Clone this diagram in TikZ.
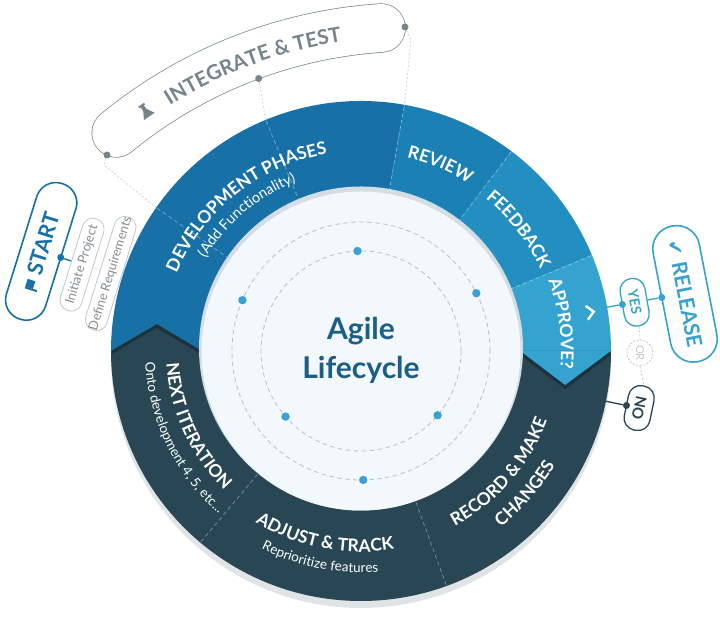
\documentclass[tikz,border=0pt]{standalone}
\usepackage{fontspec}
\setmainfont{Lato}
\newfontfamily\dejavu{DejaVu Sans}
\usetikzlibrary{decorations.text}
\definecolor{devblue}{HTML}{1771A7}
\definecolor{revblue}{HTML}{1B80B3}
\definecolor{feedblue}{HTML}{238FC1}
\definecolor{appblue}{HTML}{35A3CF}
\definecolor{darkslate}{HTML}{284653}
\definecolor{darkshadow}{HTML}{1C333D}
\definecolor{innerfill}{HTML}{F3F8FC}
\definecolor{innerrim}{HTML}{D3DDE3}
\definecolor{dotblue}{HTML}{3AA1D2}
\definecolor{pillgrey}{HTML}{75858C}
\definecolor{titleblue}{HTML}{1B5E86}
\definecolor{dotgrey}{HTML}{D0D5D8}
\definecolor{circgrey}{HTML}{BDBFC1}
\definecolor{spillgrey}{HTML}{C3C8CB}
\definecolor{stextgrey}{HTML}{878D92}
\definecolor{shadowgrey}{HTML}{E1E4E6}
\definecolor{orgrey}{HTML}{C6C9CC}
\newcommand\ringtitle{\fontsize{17.5}{20}\selectfont\bfseries}
\newcommand\ringsub{\fontsize{13.5}{16}\selectfont}
\newcommand\devsub{\fontsize{14.5}{17}\selectfont}
\begin{document}
\begin{tikzpicture}[x=1pt,y=1pt,
  dotline/.style={draw=dotgrey, line width=.8pt, dash pattern=on 2pt off 2pt},
  ringdash/.style={draw=white, draw opacity=.35, line width=.8pt, dash pattern=on 4pt off 3pt},
  circdash/.style={draw=circgrey, line width=.8pt, dash pattern=on 4.5pt off 3.5pt},
  dotnode/.style={circle, inner sep=0pt, minimum size=7pt},
  smallpill/.style={draw=spillgrey, line width=.8pt, fill=white, rounded corners=10.5pt, minimum height=22pt, text=stextgrey, font=\fontsize{12.8}{14}\selectfont, inner sep=0pt},
  bigpill/.style={fill=white, line width=1.6pt, rounded corners=20pt, minimum height=41pt, font=\fontsize{21.5}{24}\selectfont\bfseries, inner sep=0pt},
  tinypill/.style={fill=white, line width=1.3pt, rounded corners=12pt, minimum height=25pt, font=\fontsize{14}{16}\selectfont\bfseries, inner sep=0pt}]
\fill[white] (0,0) rectangle (720,617);
\useasboundingbox (0,0) rectangle (720,617);
% integrate & test pill
\begin{scope}[shift={(412,124)}]
  \draw[pillgrey, line width=49.4pt, line cap=round] (129.4:466) arc[start angle=129.4, end angle=93.8, radius=466];
  \draw[white, line width=48pt, line cap=round] (129.4:466) arc[start angle=129.4, end angle=93.8, radius=466];
  \path[decorate, decoration={text along path, text align=center, text={|\color{pillgrey}\fontsize{20.5}{23}\selectfont\bfseries|INTEGRATE {\&} TEST}}] (150.4:457) arc[start angle=150.4, end angle=70.4, radius=457];
  \begin{scope}[shift={(124.9:465)}, rotate=34.9]
    \fill[pillgrey] (-3.4,6.4) rectangle (3.4,8.4);
    \fill[pillgrey] (-1.9,6.6) -- (-1.9,2.2) -- (-6.4,-5.8) -- (6.4,-5.8) -- (1.9,2.2) -- (1.9,6.6) -- cycle;
  \end{scope}
  \node[dotnode, fill=pillgrey] (idotM) at (110.3:442) {};
\end{scope}
\node[dotnode, fill=pillgrey] (idotL) at (107,462) {};
\node[dotnode, fill=pillgrey] (idotR) at (405,590) {};
% ring
\begin{scope}[shift={(361,266)}]
  \coordinate (r80) at (80:250);
  \coordinate (r112) at (112.4:250);
  \coordinate (r145) at (145:250);
  \coordinate (r163) at (162.8:250);
  \coordinate (r10) at (10.1:250);
  \coordinate (rm12) at (-11.6:250);
  \draw[dotline] (idotL) -- ++(-3,-10) -- (r145);
  \draw[dotline] (idotM) -- (r112);
  \draw[dotline] (idotR) -- ++(6,-13) -- (r80);
  % shadow
  \fill[shadowgrey] (0,-7) circle[radius=250];
  % sectors
  \fill[devblue] (0,0) -- (80:250) arc[start angle=80, end angle=180, radius=250] -- cycle;
  \fill[revblue] (0,0) -- (53:250) arc[start angle=53, end angle=80, radius=250] -- cycle;
  \fill[feedblue] (0,0) -- (22.5:250) arc[start angle=22.5, end angle=53, radius=250] -- cycle;
  \fill[appblue] (0,0) -- (0:250) arc[start angle=0, end angle=22.5, radius=250] -- cycle;
  \fill[darkslate] (0,0) -- (180:250) arc[start angle=180, end angle=360, radius=250] -- cycle;
  \fill[darkslate] (180:250) -- (172.5:206) -- (180:159) -- cycle;
  \fill[appblue] (0:250) -- (-9.5:207) -- (0:159) -- cycle;
  \begin{scope}
    \clip (0,0) circle[radius=249.5];
    \draw[darkshadow, line width=3pt, yshift=-2pt] (180:250) -- (172.5:206) -- (180:159);
    \draw[darkshadow, line width=3pt, yshift=-2pt] (0:250) -- (-9.5:207) -- (0:159);
  \end{scope}
  \foreach \a in {80,53,22.5,112.4,145,230,290} \draw[ringdash] (\a:161) -- (\a:250);
  % inner circle
  \fill[innerrim] (0,2.5) circle[radius=162];
  \fill[innerfill] (0,0) circle[radius=159.5];
  \draw[circdash] (0,0) circle[radius=129];
  \draw[circdash] (0,0) circle[radius=100];
  \foreach \a/\r in {92/100, 221/100, 320/100, 26.6/129, 156.8/129, 271/129}
    \fill[dotblue] (\a:\r) circle[radius=4.2];
  \node[font=\fontsize{30}{34}\selectfont\bfseries, text=titleblue, anchor=base] (agile) at (0,11) {Agile};
  \node[font=\fontsize{30}{34}\selectfont\bfseries, text=titleblue, anchor=base] (lifecycle) at (0,-28) {Lifecycle};
  % ring texts
  \path[decorate, decoration={text along path, text align=center, text={|\color{white}\ringtitle|DEVELOPMENT PHASES}}] (178.4:200) arc[start angle=178.4, end angle=78.4, radius=200];
  \path[decorate, decoration={text along path, text align=center, text={|\color{white}\devsub|(Add Functionality)}}] (180.1:181) arc[start angle=180.1, end angle=80.1, radius=181];
  \path[decorate, decoration={text along path, text align=center, text={|\color{white}\ringtitle|REVIEW}}] (97:199) arc[start angle=97, end angle=37, radius=199];
  \path[decorate, decoration={text along path, text align=center, text={|\color{white}\ringtitle|FEEDBACK}}] (67.6:197) arc[start angle=67.6, end angle=7.6, radius=197];
  \path[decorate, decoration={text along path, text align=center, text={|\color{white}\ringtitle|APPROVE?}}] (37.8:200) arc[start angle=37.8, end angle=-22.2, radius=200];
  \path[decorate, decoration={text along path, text align=center, text={|\color{white}\ringtitle|RECORD {\&} MAKE}}] (-81.1:198.5) arc[start angle=-81.1, end angle=-1.1, radius=198.5];
  \path[decorate, decoration={text along path, text align=center, text={|\color{white}\ringtitle|CHANGES}}] (-81:225) arc[start angle=-81, end angle=-1, radius=225];
  \path[decorate, decoration={text along path, text align=center, text={|\color{white}\ringtitle|ADJUST {\&} TRACK}}] (218.9:201) arc[start angle=218.9, end angle=298.9, radius=201];
  \path[decorate, decoration={text along path, text align=center, text={|\color{white}\ringsub|Reprioritize features}}] (218.9:221.5) arc[start angle=218.9, end angle=298.9, radius=221.5];
  \path[decorate, decoration={text along path, text align=center, text={|\color{white}\ringtitle|NEXT ITERATION}}] (164.6:195) arc[start angle=164.6, end angle=244.6, radius=195];
  \path[decorate, decoration={text along path, text align=center, text={|\color{white}\ringsub|Onto development 4, 5, etc...}}] (165.9:216) arc[start angle=165.9, end angle=245.9, radius=216];
  \begin{scope}[rotate=9.6]
    \draw[white, line width=2.4pt] (229,7) -- (236,0) -- (229,-7);
  \end{scope}
  % start side
  \draw[dotline] (60.7-361,359.5-266) -- (r163);
  \node[bigpill, draw=devblue, text=devblue, minimum width=142pt, rotate=72.7] (start) at (162.7:335) {\rule{1.9pt}{12.5pt}\rule[4.5pt]{8pt}{8pt}\hspace{6pt}START};
  \node[smallpill, minimum width=96pt, rotate=72.8] (init) at (162.8:292) {Initiate Project};
  \node[smallpill, minimum width=113pt, rotate=72.8] (define) at (162.8:262) {Define Requirements};
  \node[dotnode, fill=devblue] (startdot) at (162.7:314.5) {};
  \draw[devblue, line width=1.3pt] (startdot) -- (init);
  % release side
  \node[bigpill, draw=appblue, text=appblue, minimum width=138pt, minimum height=47pt, rounded corners=23pt, font=\fontsize{21}{24}\selectfont\bfseries, rotate=-79] (release) at (10:329) {{\dejavu\fontsize{19}{21}\selectfont ✔}\hspace{6pt}RELEASE};
  \node[tinypill, draw=appblue, text=appblue, minimum width=48pt, rotate=-79.9] (yes) at (10.1:278) {YES};
  \node[circle, draw=orgrey, line width=.8pt, dash pattern=on 2pt off 1.5pt, fill=white, minimum size=26pt, inner sep=0pt, text=orgrey, font=\fontsize{11}{13}\selectfont, rotate=-90] (or) at (-0.4:279) {OR};
  \node[tinypill, draw=darkslate, text=darkslate, minimum width=45pt, minimum height=26pt, font=\fontsize{15}{17}\selectfont\bfseries, rotate=-101.6] (no) at (-11.6:284) {NO};
  \node[dotnode, fill=appblue] (yesdot) at (10.1:265.5) {};
  \node[dotnode, fill=appblue] (reldot) at (10.1:305.5) {};
  \node[dotnode, fill=darkslate] (nodot) at (-11.6:271) {};
  \draw[appblue, line width=1.3pt] (r10) -- (yesdot);
  \draw[appblue, line width=1.3pt] (yes) -- (reldot);
  \draw[darkslate, line width=1.3pt] (rm12) -- (nodot);
  \draw[orgrey, line width=.8pt, dash pattern=on 2pt off 2pt] (yes.east) -- (or.west);
  \draw[orgrey, line width=.8pt, dash pattern=on 2pt off 2pt] (or.east) -- (no.west);
\end{scope}
\end{tikzpicture}
\end{document}
